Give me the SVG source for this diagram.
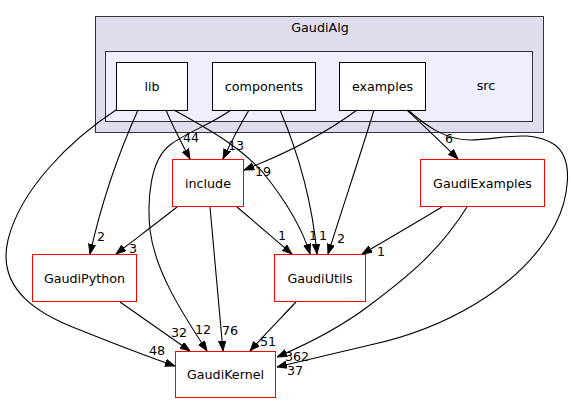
<svg xmlns="http://www.w3.org/2000/svg" width="572" height="404" viewBox="0 0 572 404">
<style>
text{font-family:"DejaVu Sans","Liberation Sans",sans-serif;font-size:12.7px;fill:#000;}
.c{text-anchor:middle;}
.n rect{fill:#fff;stroke:#000;stroke-width:1;}
.r rect{fill:#fff;stroke:#ff0000;stroke-width:1;}
.e path{fill:none;stroke:#000;stroke-width:1.1;marker-end:url(#ah);}
.lbl{text-anchor:middle;}
</style>
<defs>
<marker id="ah" markerUnits="userSpaceOnUse" markerWidth="11" markerHeight="8" refX="10" refY="3.75" orient="auto">
<path d="M0,0 L10,3.75 L0,7.5 z" fill="#000" stroke="#000" stroke-width="0.8"/>
</marker>
</defs>
<rect width="572" height="404" fill="#fff"/>
<g id="cluster_GaudiAlg">
<rect x="95.5" y="16.5" width="448" height="116" fill="#ddddee" stroke="#333"/>
<text class="c" x="320" y="32">GaudiAlg</text>
</g>
<g id="cluster_src">
<rect x="105.5" y="51.5" width="427" height="70" fill="#eeeeff" stroke="#333"/>
<text class="c" x="486" y="90">src</text>
</g>
<g id="node_lib" class="n"><rect x="116.5" y="62.5" width="71" height="48"/><text class="c" x="152" y="90.5">lib</text></g>
<g id="node_components" class="n"><rect x="212.5" y="62.5" width="103" height="48"/><text class="c" x="264" y="90.5">components</text></g>
<g id="node_examples" class="n"><rect x="339.5" y="62.5" width="86" height="48"/><text class="c" x="382.5" y="90.5">examples</text></g>
<g id="node_include" class="r"><rect x="172.5" y="159.5" width="71" height="47"/><text class="c" x="208" y="187.5">include</text></g>
<g id="node_GaudiExamples" class="r"><rect x="420.5" y="159.5" width="124" height="47"/><text class="c" x="482.5" y="187.5">GaudiExamples</text></g>
<g id="node_GaudiPython" class="r"><rect x="32.5" y="254.5" width="104" height="47"/><text class="c" x="84.5" y="282.5">GaudiPython</text></g>
<g id="node_GaudiUtils" class="r"><rect x="274.5" y="254.5" width="91" height="47"/><text class="c" x="320" y="282.5">GaudiUtils</text></g>
<g id="node_GaudiKernel" class="r"><rect x="175.5" y="351.5" width="100" height="46"/><text class="c" x="225.5" y="379">GaudiKernel</text></g>
<g id="connectors" class="e">
<path d="M116,110 C70,140 20,190 8,240 C-4,290 40,315 80,330 C110,342 140,354 175,366"/>
<text class="lbl" x="157" y="355">48</text>
<path d="M138,110 C120,150 102,200 90,254"/>
<text class="lbl" x="101" y="241">2</text>
<path d="M166,110 C172,125 180,140 190,159"/>
<text class="lbl" x="191" y="142">44</text>
<path d="M174,110 C200,125 240,145 265,175 C288,204 302,228 310,254"/>
<text class="lbl" x="313" y="240">1</text>
<path d="M249,110 C240,125 232,140 223,159"/>
<text class="lbl" x="236" y="150">13</text>
<path d="M231,110 C210,125 185,133 170,145 C150,160 147,200 150,230 C155,270 180,310 207,351"/>
<text class="lbl" x="203" y="334">12</text>
<path d="M280,110 C297,150 312,200 317,254"/>
<text class="lbl" x="323" y="240">1</text>
<path d="M357,110 C330,130 290,152 244,170"/>
<text class="lbl" x="263" y="176">19</text>
<path d="M374,110 C362,150 345,200 328,254"/>
<text class="lbl" x="341" y="243">2</text>
<path d="M407,110 C425,127 442,143 458,159"/>
<text class="lbl" x="449" y="143">6</text>
<path d="M467,207 C440,250 410,275 370,305 C345,324 310,343 277,357"/>
<text class="lbl" x="297" y="361">362</text>
<path d="M408,110 C425,125 445,140 470,140 C500,140 530,128 555,145 C575,160 568,200 555,225 C520,290 440,330 370,345 C340,352 310,359 277,367"/>
<text class="lbl" x="295" y="375">37</text>
<path d="M442,207 C415,223 390,238 362,254"/>
<text class="lbl" x="381" y="256">1</text>
<path d="M177,207 C158,222 138,237 116,254"/>
<text class="lbl" x="133" y="253">3</text>
<path d="M210,207 C214,255 219,303 223,351"/>
<text class="lbl" x="230" y="335">76</text>
<path d="M237,207 C255,222 273,238 292,254"/>
<text class="lbl" x="282" y="240">1</text>
<path d="M120,302 C143,318 166,334 190,351"/>
<text class="lbl" x="179" y="337">32</text>
<path d="M296,302 C281,318 265,334 250,351"/>
<text class="lbl" x="268" y="346">51</text>
</g>
</svg>
